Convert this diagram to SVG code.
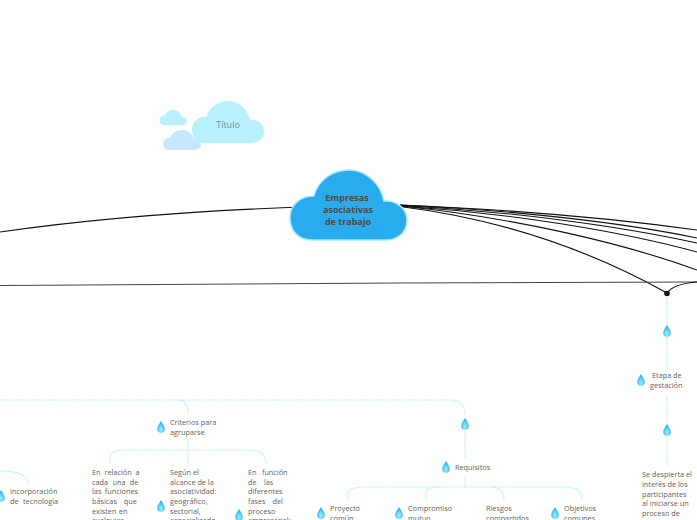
<svg xmlns="http://www.w3.org/2000/svg" width="697" height="520" viewBox="0 0 697 520">
<style>
text{font-family:"Open Sans","Noto Sans","Liberation Sans",sans-serif;font-size:7.3px;fill:#5f5f5f}
.t{font-weight:700;font-size:9px;fill:#4f4a48;text-anchor:middle}
.b{fill:none;stroke:#111;stroke-width:1.1}
.d{fill:none;stroke:#b9eef9;stroke-width:1.2;stroke-dasharray:1.5 .8}
</style>
<defs>
<path id="cloud" d="M22 70C8 70 0 60 0 48C0 35 10 26 24 26C28 10 43 0 59 0C75 0 90 12 94 31C108 30 117 40 117 50C117 62 108 70 96 70Z"/>
<radialGradient id="g" cx="50%" cy="72%" r="60%"><stop offset="0" stop-color="#a5eeff"/><stop offset="1" stop-color="#20b6f4"/></radialGradient>
<path id="drop" d="M0-6C1.200-3.500 3.800-1.500 3.800 2A3.800 3.800 0 0 1-3.800 2C-3.800-1.500-1.200-3.500 0-6Z" fill="url(#g)"/>
</defs>
<g id="connectors">
<path class="b" d="M300 207C190 211 90 219 0 232" stroke-width="1.200"/>
<path class="b" d="M400 205C500 209 610 218 697 230" stroke-width="1.300"/>
<path class="b" d="M400 205C510 210 620 222 697 238" stroke-width="1.300"/>
<path class="b" d="M400 205.500C510 211 620 226 697 243" stroke-width="1.300"/>
<path class="b" d="M400 206C510 213 620 231 697 252" stroke-width="1.300"/>
<path class="b" d="M400 206C510 217 620 242 697 270" stroke-width="1.200"/>
<path class="b" d="M400 206.500C500 219 590 250 667 293"/>
<path d="M0 285.500L400 283L697 282" fill="none" stroke="#444" stroke-width="1"/>
<path class="b" d="M667 293C672 286 684 283 697 282"/>
<circle cx="667" cy="293.500" r="2.800" fill="#111"/>
<path class="d" d="M667 298V325M667 338V370M667 396V423M667 437V467"/>
<path class="d" d="M0 400H178Q188 400 188 415M178 400H450Q465 400 465 415"/>
<path class="d" d="M188 440V465M110 464V458Q110 450 125 450H250Q266 450 266 464"/>
<path class="d" d="M0 471Q28 471 28 484"/>
<path class="d" d="M465 431V458M465 476V487M348 500V494Q348 487 365 487H565Q582 487 582 500M426 500V492Q426 487 440 487M490 487Q504 487 504 500"/>
</g>
<g id="node-titulo-clouds">
<use href="#cloud" transform="translate(159.500 110) scale(.235 .215)" fill="#b9f0ff"/>
<use href="#cloud" transform="translate(163 130) scale(.325 .285)" fill="#c3e8ff"/>
</g>
<g id="node-titulo">
<use href="#cloud" transform="translate(192 101) scale(.615 .6)" fill="#b9f0ff"/>
<text x="228" y="128" text-anchor="middle" style="font-size:9px;fill:#7d8f99">Título</text>
</g>
<g id="node-central">
<use href="#cloud" transform="translate(290 170)" fill="#28aced" stroke="#a9e8fa" stroke-width="1.500"/>
<text class="t" x="347" y="201">Empresas</text>
<text class="t" x="348" y="213">asociativas</text>
<text class="t" x="348" y="225">de trabajo</text>
</g>
<g id="node-drop1"><use href="#drop" x="667" y="331"/></g>
<g id="node-etapa"><use href="#drop" x="641" y="380"/><text x="652" y="378">Etapa de</text><text x="650" y="388">gestación</text></g>
<g id="node-drop2"><use href="#drop" x="667" y="430"/></g>
<g id="node-despierta"><text x="642" y="477">Se despierta el</text><text x="642" y="487">interés de los</text><text x="642" y="496.500">participantes</text><text x="642" y="506">al iniciarse un</text><text x="642" y="516">proceso de</text></g>
<g id="node-criterios"><use href="#drop" x="161" y="427"/><text x="170" y="425">Criterios para</text><text x="170" y="435">agruparse</text></g>
<g id="node-drop3"><use href="#drop" x="465" y="424"/></g>
<g id="node-requisitos"><use href="#drop" x="446" y="467"/><text x="455" y="470">Requisitos</text></g>
<g id="node-incorporacion"><use href="#drop" x="1" y="496"/><text x="10" y="494">Incorporación</text><text x="10" y="504" word-spacing="2.500">de tecnología</text></g>
<g id="node-relacion"><text x="92" y="475" word-spacing="2">En relación a</text><text x="92" y="485" word-spacing="2.500">cada una de</text><text x="92" y="494" word-spacing="1.500">las funciones</text><text x="92" y="504" word-spacing="5">básicas que</text><text x="92" y="514" word-spacing=".5">existen en</text><text x="92" y="523">cualquier</text></g>
<g id="node-alcance"><use href="#drop" x="161" y="506"/><text x="170" y="475">Según el</text><text x="170" y="485">alcance de la</text><text x="170" y="494">asociatividad:</text><text x="170" y="504">geográfico,</text><text x="170" y="514">sectorial,</text><text x="170" y="523">especializado</text></g>
<g id="node-funcion"><use href="#drop" x="239" y="515"/><text x="248" y="475" word-spacing="3.500">En función</text><text x="248" y="485" word-spacing="5.500">de las</text><text x="248" y="494">diferentes</text><text x="248" y="504" word-spacing="5">fases del</text><text x="248" y="514">proceso</text><text x="248" y="523">empresarial:</text></g>
<g id="node-proyecto"><use href="#drop" x="321" y="513"/><text x="330" y="511">Proyecto</text><text x="330" y="521">común</text></g>
<g id="node-compromiso"><use href="#drop" x="399" y="513"/><text x="408" y="511">Compromiso</text><text x="408" y="521">mutuo</text></g>
<g id="node-riesgos"><text x="486" y="511">Riesgos</text><text x="486" y="521">compartidos</text></g>
<g id="node-objetivos"><use href="#drop" x="555" y="513"/><text x="564" y="511">Objetivos</text><text x="564" y="521">comunes</text></g>
</svg>
